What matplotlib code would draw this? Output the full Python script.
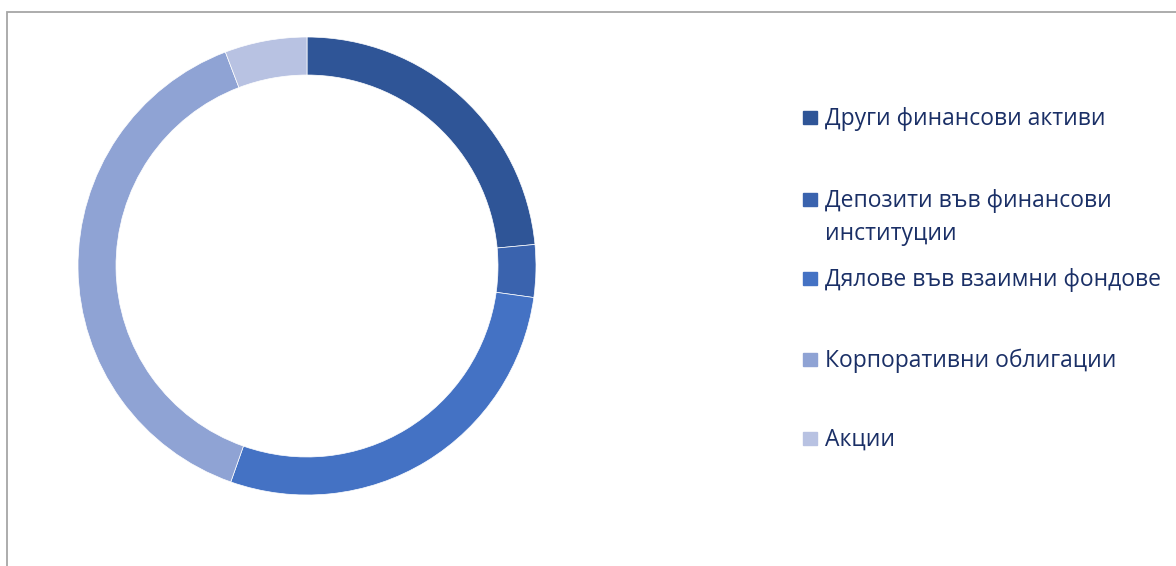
import matplotlib.pyplot as plt
from matplotlib.patches import Rectangle

# --- data (shares in %) ---
labels = [
    "Други финансови активи",
    "Депозити във финансови\nинституции",
    "Дялове във взаимни фондове",
    "Корпоративни облигации",
    "Акции",
]
shares = [23.5, 3.7, 28.2, 38.8, 5.8]
colors = ["#2F5597", "#3A63AE", "#4472C4", "#8FA3D4", "#B8C2E2"]

W, H = 1176, 566
fig = plt.figure(figsize=(W / 100, H / 100), dpi=100)

# gray chart frame (runs off the right/bottom edge)
fig.patches.append(Rectangle((6.5 / W, -0.05), 1.2, (H - 11.5) / H + 0.05,
                             transform=fig.transFigure, fill=False,
                             edgecolor="#A6A6A6", linewidth=1.3))

# --- donut ---
cx, cy, r = 307, 266, 229
ax = fig.add_axes([(cx - r) / W, (H - cy - r) / H, 2 * r / W, 2 * r / H])
ax.pie(shares, colors=colors, startangle=90, counterclock=False,
       radius=1.0,
       wedgeprops=dict(width=0.166, edgecolor="white", linewidth=0.5))
ax.set_xlim(-1, 1)
ax.set_ylim(-1, 1)
ax.set_aspect("auto")
ax.axis("off")

# --- legend, drawn by hand so the wrapped label keeps its marker on line one ---
legend_y = [117, 199, 278, 359, 438]
for lab, col, y in zip(labels, colors, legend_y):
    fig.patches.append(Rectangle((803 / W, 1 - (y + 7) / H), 14 / W, 13 / H,
                                 transform=fig.transFigure, color=col))
    for i, line in enumerate(lab.split("\n")):
        fig.text(825 / W, 1 - (y + 2 + 33 * i) / H, line, fontsize=16.5,
                 family="Open Sans", color="#1A2F66", va="center", ha="left")

fig.savefig("out.png", dpi=100)
